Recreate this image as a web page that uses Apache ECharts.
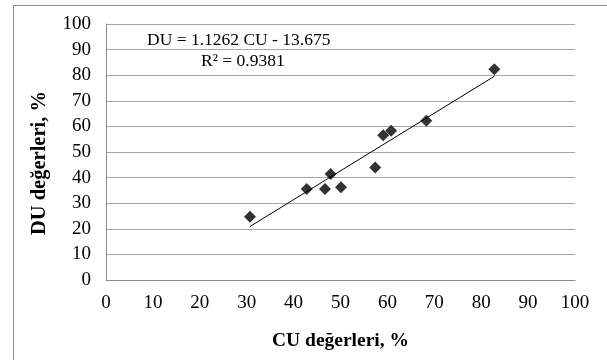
<!DOCTYPE html>
<html>
<head>
<meta charset="utf-8">
<script src="https://cdn.jsdelivr.net/npm/echarts@6/dist/echarts.min.js"></script>
<style>
   html, body { margin: 0; padding: 0; background: #fff; }
   #chart { width: 607px; height: 360px; }
</style>
</head>
<body>
<div id="chart"></div>
<script>
const cuValues = [30.7, 42.8, 46.7, 47.9, 50.1, 57.4, 59.1, 60.8, 68.3, 82.8];
const duValues = [24.7, 35.5, 35.5, 41.4, 36.2, 43.9, 56.5, 58.3, 62.2, 82.3];

// linear trend shown on the chart
const slope = 1.1262;
const intercept = -13.675;
const equationText = "DU = 1.1262 CU - 13.675";
const r2Text = "R² = 0.9381";

const xTitle = "CU değerleri, %";
const yTitle = "DU değerleri, %";

const points = cuValues.map((cu, i) => [cu, duValues[i]]);
const xMin = Math.min(...cuValues);
const xMax = Math.max(...cuValues);
const trendLine = [
   [xMin, slope * xMin + intercept],
   [xMax, slope * xMax + intercept],
];

const serif = "'Liberation Serif', 'DejaVu Serif', serif";

const chart = echarts.init(document.getElementById("chart"));

chart.setOption({
   animation: false,
   backgroundColor: "#fff",
   textStyle: { fontFamily: serif },
   grid: { left: 106, right: 32, top: 24, bottom: 80 },
   graphic: [
      {
         type: "rect",
         shape: { x: 13.5, y: 5.5, width: 620, height: 400 },
         style: { fill: "none", stroke: "#8c8c8c", lineWidth: 1 },
         silent: true,
      },
      {
         type: "text",
         left: 147,
         top: 31,
         style: { text: equationText, fontFamily: serif, fontSize: 17.5, fill: "#000" },
      },
      {
         type: "text",
         left: 201,
         top: 52,
         style: { text: r2Text, fontFamily: serif, fontSize: 17.5, fill: "#000" },
      },
      {
         // y axis title, placed by hand (sits a bit below the plot middle)
         type: "text",
         x: 40,
         y: 163,
         rotation: Math.PI / 2,
         style: {
            text: yTitle,
            fontFamily: serif,
            fontSize: 20.5,
            fontWeight: "bold",
            fill: "#000",
            align: "center",
            verticalAlign: "middle",
         },
      },
   ],
   xAxis: {
      type: "value",
      min: 0,
      max: 100,
      interval: 10,
      name: xTitle,
      nameLocation: "middle",
      nameGap: 51,
      nameTextStyle: { fontFamily: serif, fontSize: 19.5, fontWeight: "bold", color: "#000" },
      axisLine: { show: true, lineStyle: { color: "#8c8c8c", width: 1 } },
      axisTick: { show: false },
      axisLabel: { fontFamily: serif, fontSize: 19, color: "#000", margin: 14 },
      splitLine: { show: false },
   },
   yAxis: {
      type: "value",
      min: 0,
      max: 100,
      interval: 10,
      axisLine: { show: true, lineStyle: { color: "#8c8c8c", width: 1 } },
      axisTick: { show: false },
      axisLabel: { fontFamily: serif, fontSize: 19, color: "#000", margin: 15 },
      splitLine: { show: true, lineStyle: { color: "#a6a6a6", width: 1 } },
   },
   series: [
      {
         type: "line",
         data: trendLine,
         symbol: "none",
         lineStyle: { color: "#000", width: 1 },
         z: 2,
      },
      {
         type: "scatter",
         data: points,
         symbol: "diamond",
         symbolSize: 12,
         itemStyle: { color: "#000" },
         z: 3,
      },
   ],
});
</script>
</body>
</html>
